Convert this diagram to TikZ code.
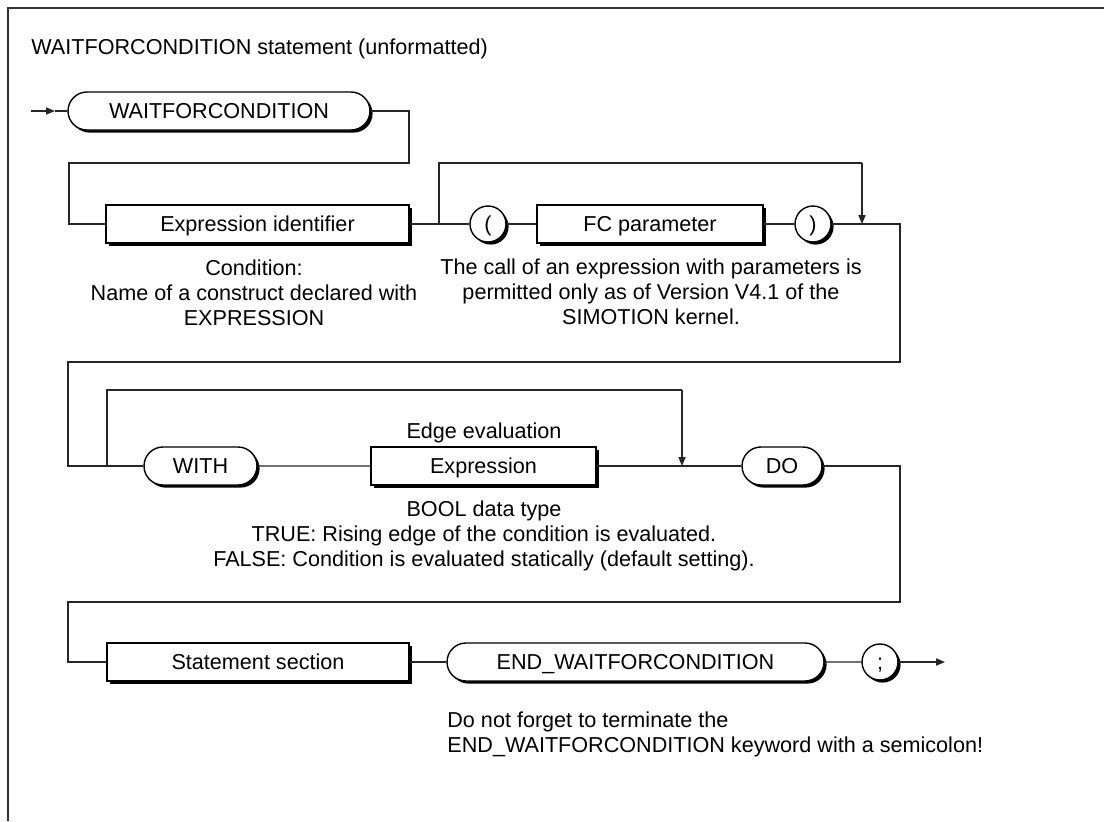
\documentclass[tikz,border=0pt]{standalone}
\usepackage{fontspec}
\setmainfont{Liberation Sans}
\usetikzlibrary{arrows.meta, shapes.misc, shadows}

\tikzset{
  keyword/.style={rounded rectangle, draw, line width=0.7pt, fill=white, minimum height=19pt, inner sep=0pt,
    text height=7.7pt, text depth=0pt,
    general shadow={fill=black, shadow xshift=1.3pt, shadow yshift=-1.3pt}},
  block/.style={rectangle, draw, line width=0.7pt, fill=white, minimum height=19pt, inner sep=0pt,
    text height=7.7pt, text depth=0pt,
    general shadow={fill=black, shadow xshift=1.3pt, shadow yshift=-1.3pt}},
  symbol/.style={circle, draw, line width=0.7pt, fill=white, minimum size=18pt, inner sep=0pt,
    text height=7.7pt, text depth=0pt,
    general shadow={fill=black, shadow xshift=1.3pt, shadow yshift=-1.3pt}},
  remark/.style={align=center, inner sep=0pt, font=\fontsize{10.8}{12.6}\selectfont},
  flow/.style={line width=0.6pt, draw=black!85},
  flowarrow/.style={flow, -{Triangle[length=4.5pt,width=3.6pt]}}
}

\begin{document}
\begin{tikzpicture}[x=0.5pt, y=-0.5pt, font=\fontsize{10.8}{12.6}\selectfont]
    \useasboundingbox (0,0) rectangle (1104,821);

    %frame
    \draw[line width=1.1pt, black!80] (8,821) -- (8,8) -- (1104,8);
    \node[anchor=base west, inner sep=0pt] (title) at (31,54) {WAITFORCONDITION statement (unformatted)};

    %first row
    \coordinate (start) at (31,111);
    \coordinate (entry) at (55,111);
    \node[keyword, minimum width=151pt] (kwwait) at (219,111) {WAITFORCONDITION};

    %second row
    \node[block, minimum width=151.5pt] (exprid) at (257.5,224) {Expression identifier};
    \node[symbol] (lpar) at (488,224) {(};
    \node[block, minimum width=113pt] (fcpar) at (650,224) {FC parameter};
    \node[symbol] (rpar) at (813,224) {)};

    \node[remark, anchor=north] (condnote) at (254,259) {Condition:\\Name of a construct declared with\\EXPRESSION};
    \node[remark, anchor=north] (callnote) at (651,258) {The call of an expression with parameters is\\permitted only as of Version V4.1 of the\\SIMOTION kernel.};

    %third row
    \node[keyword, minimum width=56.5pt] (kwwith) at (200.5,466) {WITH};
    \node[block, minimum width=112.5pt] (expr) at (483.5,466) {Expression};
    \node[keyword, minimum width=40pt] (kwdo) at (782,466) {DO};

    \node[anchor=base, inner sep=0pt] (edgenote) at (484,438) {Edge evaluation};
    \node[remark, anchor=north] (boolnote) at (484,500) {BOOL data type\\TRUE: Rising edge of the condition is evaluated.\\FALSE: Condition is evaluated statically (default setting).};

    %fourth row
    \node[block, minimum width=151pt] (stmt) at (258,662) {Statement section};
    \node[keyword, minimum width=188.5pt] (kwend) at (635.5,662) {END\_WAITFORCONDITION};
    \node[symbol] (semi) at (880,662) {;};
    \coordinate (finish) at (945,662);

    \node[remark, anchor=north west, align=left] (endnote) at (447,711) {Do not forget to terminate the\\END\_WAITFORCONDITION keyword with a semicolon!};

    %bends and junctions
    \coordinate (a1) at (409,163);
    \coordinate (a2) at (69,163);
    \coordinate (j1) at (439,224);
    \coordinate (b1) at (439,163);
    \coordinate (b2) at (862,163);
    \coordinate (j2) at (862,224);
    \coordinate (a3) at (900,362);
    \coordinate (a4) at (68,362);
    \coordinate (j3) at (107,466);
    \coordinate (b3) at (107,390);
    \coordinate (b4) at (682,390);
    \coordinate (j4) at (682,466);
    \coordinate (a5) at (900,602);
    \coordinate (a6) at (68,602);

    %connectors
    \draw[flowarrow] (start) -- (entry);
    \draw[flow] (entry) -- (kwwait);
    \draw[flow] (kwwait.east) -| (a1) -- (a2) |- (exprid.west);
    \draw[flow] (exprid) -- (lpar);
    \draw[flow] (lpar) -- (fcpar);
    \draw[flow] (fcpar) -- (rpar);
    \draw[flow] (j1) -- (b1) -- (b2);
    \draw[flowarrow] (b2) -- (j2);
    \draw[flow] (rpar.east) -| (a3) -- (a4) |- (kwwith.west);
    \draw[flow] (kwwith) -- (expr);
    \draw[flow] (expr) -- (kwdo);
    \draw[flow] (j3) -- (b3) -- (b4);
    \draw[flowarrow] (b4) -- (j4);
    \draw[flow] (kwdo.east) -| (a5) -- (a6) |- (stmt.west);
    \draw[flow] (stmt) -- (kwend);
    \draw[flow] (kwend) -- (semi);
    \draw[flowarrow] (semi) -- (finish);

\end{tikzpicture}
\end{document}
